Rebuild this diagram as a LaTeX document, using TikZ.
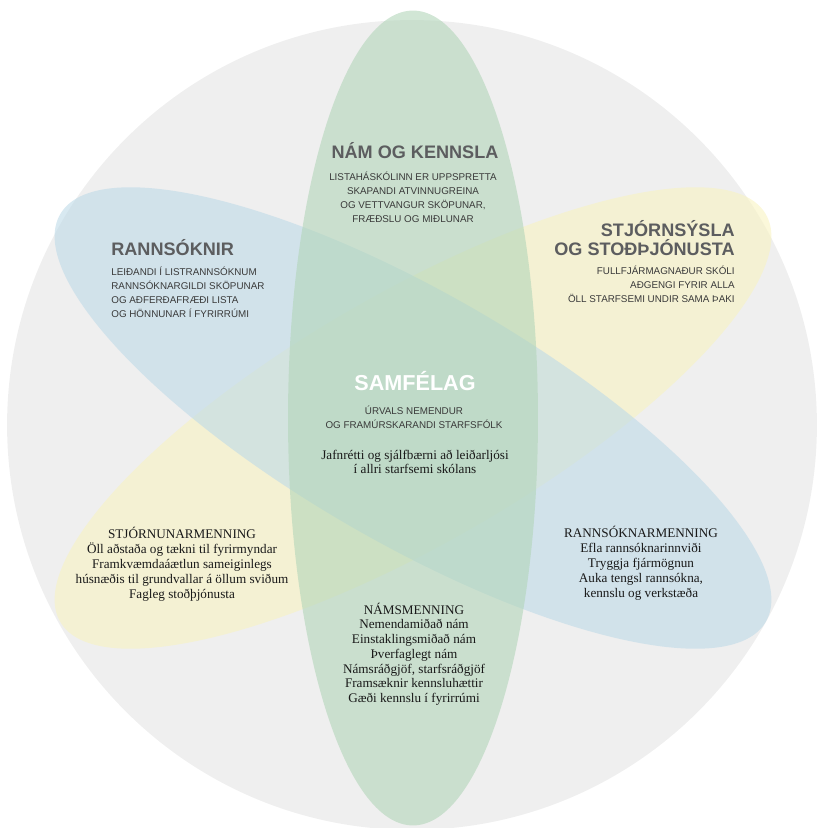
\documentclass[tikz,border=0pt]{standalone}
\usepackage{fontspec}
\setmainfont{Liberation Serif}
\setsansfont{Liberation Sans}
\usetikzlibrary{shapes.geometric}

\definecolor{ringgrey}{RGB}{239,239,239}
\definecolor{petalgreen}{RGB}{178,213,185}
\definecolor{petalblue}{RGB}{190,218,232}
\definecolor{petalyellow}{RGB}{248,243,193}
\definecolor{headgrey}{RGB}{92,93,95}
\definecolor{textgrey}{RGB}{58,58,58}

\begin{document}
\begin{tikzpicture}[
x=0.02cm,y=-0.02cm,
every node/.append style={inner sep=0pt},
petal/.style={ellipse,minimum width=16.3cm,minimum height=5cm,fill opacity=0.6},
heading/.style={font={\sffamily\bfseries\fontsize{10.3}{10.8}\selectfont},text=headgrey},
caps/.style={font={\sffamily\fontsize{5.6}{8}\selectfont},text=textgrey},
culture/.style={font={\fontsize{7.5}{8.4}\selectfont},text=black!90,align=center,anchor=base},
]
\useasboundingbox (0,0) rectangle (817,828);

\node[circle,fill=ringgrey,minimum size=16.2cm] (ring) at (412,425) {};
\node[petal,fill=petalyellow,rotate=30] (admin) at (413,418) {};
\node[petal,fill=petalblue,rotate=-30] (research) at (413,418) {};
\node[petal,fill=petalgreen,rotate=90] (teaching) at (413,418) {};

% multi-line nodes sit on the baseline of their last line
\node[heading,anchor=base] (teachhead) at (415,158.5) {NÁM OG KENNSLA};
\node[caps,align=center,anchor=base] (teachtext) at (413,222.7)
  {LISTAHÁSKÓLINN ER UPPSPRETTA\\SKAPANDI ATVINNUGREINA\\OG VETTVANGUR SKÖPUNAR,\\FRÆÐSLU OG MIÐLUNAR};

\node[heading,anchor=base west] (researchhead) at (111,255.5) {RANNSÓKNIR};
\node[caps,align=left,anchor=base west] (researchtext) at (111,317.7)
  {LEIÐANDI Í LISTRANNSÓKNUM\\RANNSÓKNARGILDI SKÖPUNAR\\OG AÐFERÐAFRÆÐI LISTA\\OG HÖNNUNAR Í FYRIRRÚMI};

\node[heading,align=right,anchor=base east] (adminhead) at (735,255.5) {STJÓRNSÝSLA\\OG STOÐÞJÓNUSTA};
\node[caps,align=right,anchor=base east] (admintext) at (735,302.6)
  {FULLFJÁRMAGNAÐUR SKÓLI\\AÐGENGI FYRIR ALLA\\ÖLL STARFSEMI UNDIR SAMA ÞAKI};

\node[heading,text=white,font={\sffamily\bfseries\fontsize{12.3}{14}\selectfont},anchor=base] (societyhead) at (415,390.5) {SAMFÉLAG};
\node[caps,align=center,anchor=base] (societytext) at (414,428.6)
  {ÚRVALS NEMENDUR\\OG FRAMÚRSKARANDI STARFSFÓLK};
\node[culture] (societyvalues) at (415,473.8)
  {Jafnrétti og sjálfbærni að leiðarljósi\\í allri starfsemi skólans};

\node[culture] (adminculture) at (182,598)
  {STJÓRNUNARMENNING\\Öll aðstaða og tækni til fyrirmyndar\\Framkvæmdaáætlun sameiginlegs\\húsnæðis til grundvallar á öllum sviðum\\Fagleg stoðþjónusta};
\node[culture] (researchculture) at (641,597)
  {RANNSÓKNARMENNING\\Efla rannsóknarinnviði\\Tryggja fjármögnun\\Auka tengsl rannsókna,\\kennslu og verkstæða};
\node[culture] (teachculture) at (414,702.6)
  {NÁMSMENNING\\Nemendamiðað nám\\Einstaklingsmiðað nám\\Þverfaglegt nám\\Námsráðgjöf, starfsráðgjöf\\Framsæknir kennsluhættir\\Gæði kennslu í fyrirrúmi};

\end{tikzpicture}
\end{document}
